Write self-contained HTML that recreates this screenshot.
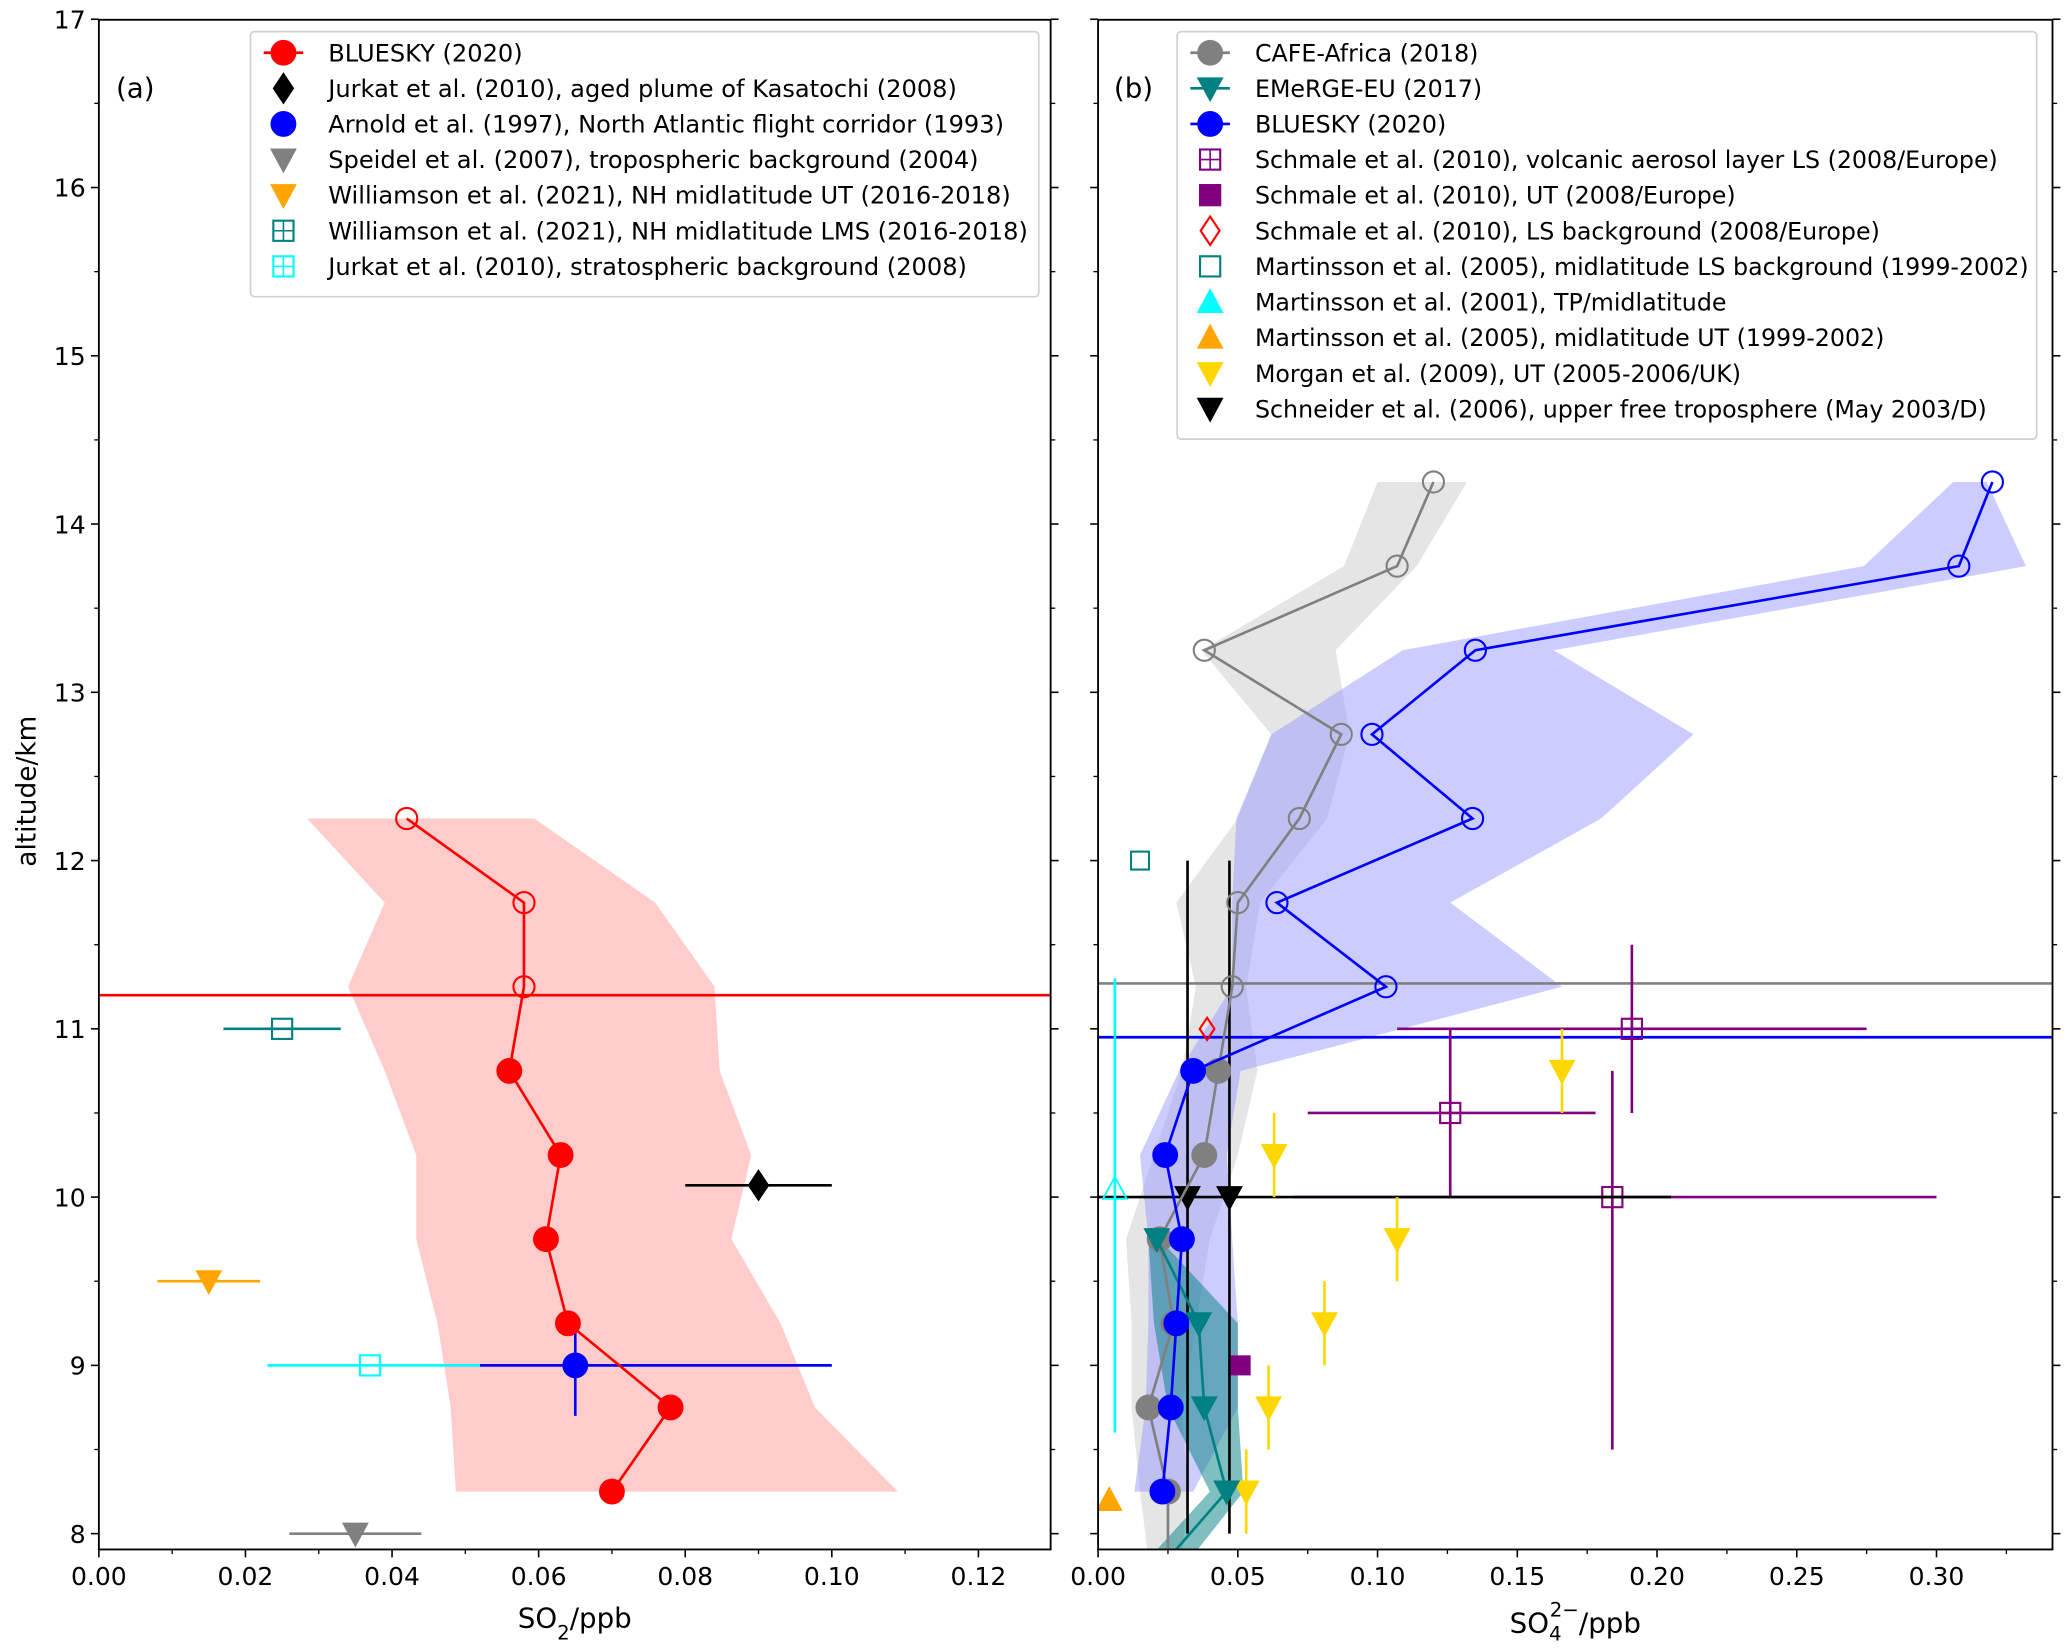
<!DOCTYPE html>
<html><head><meta charset="utf-8"><style>
html,body{margin:0;padding:0;background:#fff}
svg{display:block}
text{font-family:"DejaVu Sans","Liberation Sans",sans-serif}
</style></head><body>
<svg id="fig" xmlns="http://www.w3.org/2000/svg" width="2067" height="1651" viewBox="0 0 1568 1252" preserveAspectRatio="none"></svg>
<script>
// ---- data: panel (a) SO2 ----
const aAlt = [12.25, 11.75, 11.25, 10.75, 10.25, 9.75, 9.25, 8.75, 8.25];
const aSO2 = [0.042, 0.058, 0.058, 0.056, 0.063, 0.061, 0.064, 0.078, 0.070];
const aLow = [0.0284, 0.039, 0.034, 0.039, 0.0433, 0.0433, 0.0462, 0.048, 0.0487];
const aHigh = [0.0594, 0.0759, 0.084, 0.0847, 0.089, 0.0863, 0.093, 0.0977, 0.109];
const aOpen = [true, true, true, false, false, false, false, false, false];
const aTropopause = 11.2;
// reference points [x, alt, xlo, xhi]
const jurkatPlume = [0.090, 10.07, 0.080, 0.100];
const arnold = [0.065, 9.0, 0.052, 0.100, 8.7, 9.2];
const speidel = [0.035, 8.0, 0.026, 0.044];
const williamsonUT = [0.015, 9.5, 0.008, 0.022];
const williamsonLMS = [0.025, 11.0, 0.017, 0.033];
const jurkatStrat = [0.037, 9.0, 0.023, 0.052];
// ---- data: panel (b) sulfate ----
const bAlt = [14.25, 13.75, 13.25, 12.75, 12.25, 11.75, 11.25, 10.75, 10.25, 9.75, 9.25, 8.75, 8.25];
const cafeVal = [0.120, 0.107, 0.038, 0.087, 0.072, 0.050, 0.048, 0.043, 0.038, 0.022, 0.027, 0.018, 0.025];
const cafeLow = [0.100, 0.088, 0.037, 0.062, 0.050, 0.028, 0.035, 0.030, 0.020, 0.010, 0.012, 0.012, 0.015];
const cafeHigh = [0.132, 0.114, 0.085, 0.090, 0.082, 0.058, 0.053, 0.057, 0.050, 0.040, 0.035, 0.030, 0.032];
const cafeOpen = [true, true, true, true, true, true, true, false, false, false, false, false, false];
const blueVal = [0.320, 0.308, 0.135, 0.098, 0.134, 0.064, 0.103, 0.034, 0.024, 0.030, 0.028, 0.026, 0.023];
const blueLow = [0.306, 0.274, 0.109, 0.062, 0.0495, 0.048, 0.048, 0.029, 0.015, 0.018, 0.018, 0.017, 0.013];
const blueHigh = [0.318, 0.332, 0.163, 0.213, 0.180, 0.126, 0.166, 0.051, 0.046, 0.048, 0.050, 0.050, 0.034];
const blueOpen = [true, true, true, true, true, true, true, false, false, false, false, false, false];
const emAlt = [9.75, 9.25, 8.75, 8.25];
const emVal = [0.021, 0.036, 0.038, 0.046];
const emLow = [0.018, 0.020, 0.025, 0.040];
const emHigh = [0.022, 0.050, 0.050, 0.052];
const cafeTropopause = 11.27, blueTropopause = 10.95;
// Schmale volcanic [x, alt, xlo, xhi, ylo, yhi]
const schmaleVolc = [[0.191, 11.0, 0.107, 0.275, 10.5, 11.5], [0.126, 10.5, 0.075, 0.178, 10.0, 11.0], [0.184, 10.0, 0.070, 0.300, 8.5, 10.75]];
const schmaleUT = [0.051, 9.0];
const schmaleLS = [0.039, 11.0];
const martLS = [0.015, 12.0];
const martTP = [0.006, 10.05, 8.6, 11.3];
const martUT = [0.004, 8.2];
const morganVal = [0.166, 0.063, 0.107, 0.081, 0.061, 0.053];
const morganAlt = [10.75, 10.25, 9.75, 9.25, 8.75, 8.25];
const schneiderVal = [0.032, 0.047];
const schneiderAlt = 10.0, schneiderYlo = 8.0, schneiderYhi = 12.0, schneiderXhi = 0.205;
const aTicks = [0.00, 0.02, 0.04, 0.06, 0.08, 0.10, 0.12];
const bTicks = [0.00, 0.05, 0.10, 0.15, 0.20, 0.25, 0.30];
const yTicks = [8, 9, 10, 11, 12, 13, 14, 15, 16, 17];

const NS = "http://www.w3.org/2000/svg";
const svg = document.getElementById('fig');
function el(tag, attrs, parent) { const e = document.createElementNS(NS, tag); for (const k in attrs) e.setAttribute(k, attrs[k]); (parent || svg).appendChild(e); return e; }
const Y0 = 1163, YPK = 127.6, TOP = 15, BOT = 1175;
const y = a => Y0 - (a - 8) * YPK;
const pa = { x0: 75, x1: 797, sc: 5560 };
const pb = { x0: 833, x1: 1557, sc: 2120 };
const xa = v => pa.x0 + v * pa.sc;
const xb = v => pb.x0 + v * pb.sc;

function clipFor(id, p) { const d = el('defs', {}); const c = el('clipPath', { id: id }, d); el('rect', { x: p.x0, y: TOP, width: p.x1 - p.x0, height: BOT - TOP }, c); }
clipFor('ca', pa); clipFor('cb', pb);

function marker(g, type, cx, cy, color, fill, s) {
  s = s || 9; let e;
  const f = fill ? color : 'none';
  if (type === 'circle') e = el('circle', { cx: cx, cy: cy, r: s, fill: f, stroke: color, 'stroke-width': 1.6 }, g);
  else if (type === 'square') e = el('rect', { x: cx - s * 0.85, y: cy - s * 0.85, width: s * 1.7, height: s * 1.7, fill: f, stroke: color, 'stroke-width': 1.6 }, g);
  else if (type === 'squareplus') { e = el('g', {}, g); el('rect', { x: cx - s * 0.85, y: cy - s * 0.85, width: s * 1.7, height: s * 1.7, fill: 'none', stroke: color, 'stroke-width': 1.6 }, e); el('path', { d: `M${cx - s * .85},${cy}H${cx + s * .85}M${cx},${cy - s * .85}V${cy + s * .85}`, stroke: color, 'stroke-width': 1.2 }, e); }
  else if (type === 'diamond') e = el('path', { d: `M${cx},${cy - s * 1.2}L${cx + s * .8},${cy}L${cx},${cy + s * 1.2}L${cx - s * .8},${cy}Z`, fill: f, stroke: color, 'stroke-width': 1.6 }, g);
  else if (type === 'tdown') e = el('path', { d: `M${cx - s},${cy - s * .85}L${cx + s},${cy - s * .85}L${cx},${cy + s}Z`, fill: f, stroke: color, 'stroke-width': 1.4 }, g);
  else if (type === 'tup') e = el('path', { d: `M${cx - s},${cy + s * .85}L${cx + s},${cy + s * .85}L${cx},${cy - s}Z`, fill: f, stroke: color, 'stroke-width': 1.4 }, g);
  return e;
}
function hline(g, x1, x2, yy, color, w) { return el('line', { x1: x1, x2: x2, y1: yy, y2: yy, stroke: color, 'stroke-width': w || 2 }, g); }
function vline(g, xx, y1, y2, color, w) { return el('line', { x1: xx, x2: xx, y1: y1, y2: y2, stroke: color, 'stroke-width': w || 2 }, g); }
function band(g, low, high, alts, fx, color, op) {
  let d = '';
  alts.forEach((a, i) => d += (i ? 'L' : 'M') + fx(low[i]) + ',' + y(a));
  for (let i = alts.length - 1; i >= 0; i--) d += 'L' + fx(high[i]) + ',' + y(alts[i]);
  return el('path', { d: d + 'Z', fill: color, 'fill-opacity': op, stroke: 'none' }, g);
}
function polyline(g, vals, alts, fx, color, extra) {
  let pts = vals.map((v, i) => fx(v) + ',' + y(alts[i]));
  if (extra) pts.push(fx(extra[0]) + ',' + y(extra[1]));
  return el('polyline', { points: pts.join(' '), fill: 'none', stroke: color, 'stroke-width': 2 }, g);
}

// ---------- Panel A ----------
const gA = el('g', { 'clip-path': 'url(#ca)' });


const bandA = band(gA, aLow, aHigh, aAlt, xa, '#ff9999', 0.5);


const tpA = hline(gA, pa.x0, pa.x1, y(aTropopause), '#ff0000', 2);


function errPoint(g, fx, p, color, type, fill, name) {
  const gg = el('g', {}, g);
  
  
  hline(gg, fx(p[2]), fx(p[3]), y(p[1]), color, 2);
  if (p.length > 4) vline(gg, fx(p[0]), y(p[4]), y(p[5]), color, 2);
  marker(gg, type, fx(p[0]), y(p[1]), color, fill, 9);
  return gg;
}
errPoint(gA, xa, jurkatPlume, '#000', 'diamond', true, 'jurkat-kasatochi-point');
errPoint(gA, xa, speidel, '#808080', 'tdown', true, 'speidel-point');
errPoint(gA, xa, williamsonUT, '#ffa500', 'tdown', true, 'williamson-ut-point');
errPoint(gA, xa, williamsonLMS, '#008080', 'square', false, 'williamson-lms-point');
errPoint(gA, xa, jurkatStrat, '#00ffff', 'square', false, 'jurkat-strat-point');
errPoint(gA, xa, arnold, '#0000ff', 'circle', true, 'arnold-point');
const lineA = polyline(gA, aSO2, aAlt, xa, '#ff0000');


aSO2.forEach((v, i) => {
  const m = marker(gA, 'circle', xa(v), y(aAlt[i]), '#ff0000', !aOpen[i], aOpen[i] ? 8 : 9);
  
  
});

// ---------- Panel B ----------
const gB = el('g', { 'clip-path': 'url(#cb)' });


const bandC = band(gB, cafeLow.concat([0.018]), cafeHigh.concat([0.030]), bAlt.concat([7.85]), xb, '#cccccc', 0.5);


const bandB = band(gB, blueLow, blueHigh, bAlt, xb, '#9999ff', 0.5);


const bandE = band(gB, emLow.concat([0.018]), emHigh.concat([0.033]), emAlt.concat([7.85]), xb, '#008080', 0.5);


const tpC = hline(gB, pb.x0, pb.x1, y(cafeTropopause), '#808080', 2);


const tpB = hline(gB, pb.x0, pb.x1, y(blueTropopause), '#0000ff', 2);


schmaleVolc.forEach(p => { errPoint(gB, xb, p, '#800080', 'square', false, 'schmale-volcanic-point'); });
const gS = el('g', {}, gB);


hline(gS, xb(0), xb(schneiderXhi), y(schneiderAlt), '#000', 2);
schneiderVal.forEach(v => { vline(gS, xb(v), y(schneiderYlo), y(schneiderYhi), '#000', 2); marker(gS, 'tdown', xb(v), y(schneiderAlt), '#000', true, 9); });
morganVal.forEach((v, i) => {
  const g = el('g', {}, gB);
  
  
  vline(g, xb(v), y(morganAlt[i] + 0.25), y(morganAlt[i] - 0.25), '#ffd700', 2);
  marker(g, 'tdown', xb(v), y(morganAlt[i]), '#ffd700', true, 9);
});
const gT = el('g', {}, gB);


vline(gT, xb(martTP[0]), y(martTP[2]), y(martTP[3]), '#00ffff', 2);
marker(gT, 'tup', xb(martTP[0]), y(martTP[1]), '#00ffff', false, 9);
const mUT = marker(gB, 'tup', xb(martUT[0]), y(martUT[1]), '#ffa500', true, 9);


const mLS = marker(gB, 'square', xb(martLS[0]), y(martLS[1]), '#008080', false, 8);


const sUT = marker(gB, 'square', xb(schmaleUT[0]), y(schmaleUT[1]), '#800080', true, 8);


const sLS = marker(gB, 'diamond', xb(schmaleLS[0]), y(schmaleLS[1]), '#ff0000', false, 7);


const lineC = polyline(gB, cafeVal, bAlt, xb, '#808080', [0.025, 7.85]);


cafeVal.forEach((v, i) => {
  const m = marker(gB, 'circle', xb(v), y(bAlt[i]), '#808080', !cafeOpen[i], cafeOpen[i] ? 8 : 9);
  
  
});
const lineE = polyline(gB, emVal, emAlt, xb, '#008080', [0.025, 7.85]);


emVal.forEach((v, i) => {
  const m = marker(gB, 'tdown', xb(v), y(emAlt[i]), '#008080', true, 9);
  
  
});
const lineB = polyline(gB, blueVal, bAlt, xb, '#0000ff');


blueVal.forEach((v, i) => {
  const m = marker(gB, 'circle', xb(v), y(bAlt[i]), '#0000ff', !blueOpen[i], blueOpen[i] ? 8 : 9);
  
  
});

// ---------- Axes ----------
function axes(p, ticks, fx, name, showY) {
  const g = el('g', {});
  
  
  el('rect', { x: p.x0, y: TOP, width: p.x1 - p.x0, height: BOT - TOP, fill: 'none', stroke: '#000', 'stroke-width': 1.4 }, g);
  ticks.forEach(t => {
    const xx = fx(t);
    vline(g, xx, BOT, BOT + 6, '#000', 1.2);
    const tx = el('text', { x: xx, y: BOT + 27, 'font-size': 19, 'text-anchor': 'middle', fill: '#000' }, g);
    tx.textContent = t.toFixed(2);
  });
  const step = (ticks[1] - ticks[0]) / 2;
  for (let v = ticks[0] + step; fx(v) < p.x1 - 0.5; v += 2 * step) vline(g, fx(v), BOT, BOT + 3.5, '#000', 1);
  for (let a = 8; a <= 17.001; a += 0.5) {
    const major = Math.abs(a - Math.round(a)) < 0.01;
    const len = major ? 6 : 3.5;
    hline(g, p.x0 - len, p.x0, y(a), '#000', major ? 1.2 : 1);
    hline(g, p.x1, p.x1 + len, y(a), '#000', major ? 1.2 : 1);
  }
  if (showY) yTicks.forEach(a => {
    const tx = el('text', { x: p.x0 - 10, y: y(a) + 7, 'font-size': 19, 'text-anchor': 'end', fill: '#000' }, g);
    tx.textContent = a;
  });
  return g;
}
axes(pa, aTicks, xa, 'panel-a-axes', true);
axes(pb, bTicks, xb, 'panel-b-axes', false);

const ylab = el('text', { x: 0, y: 0, 'font-size': 20, 'text-anchor': 'middle', transform: `translate(27,${(TOP + BOT) / 2 + 5}) rotate(-90)` });


ylab.textContent = 'altitude/km';
const xla = el('text', { x: 436, y: 1234, 'font-size': 21, 'text-anchor': 'middle' });


xla.innerHTML = 'SO<tspan baseline-shift="sub" font-size="15">2</tspan>/ppb';
const xlb = el('text', { x: 1195, y: 1238, 'font-size': 21, 'text-anchor': 'middle' });


xlb.innerHTML = 'SO<tspan dy="6" font-size="15">4</tspan><tspan dy="-18" dx="-9" font-size="15">2−</tspan><tspan dy="12">/ppb</tspan>';
const la = el('text', { x: 88, y: 74, 'font-size': 21 });


la.textContent = '(a)';
const lb = el('text', { x: 845, y: 74, 'font-size': 21 });


lb.textContent = '(b)';

// ---------- Legends ----------
const legAEntries = ['BLUESKY (2020)', 'Jurkat et al. (2010), aged plume of Kasatochi (2008)', 'Arnold et al. (1997), North Atlantic flight corridor (1993)', 'Speidel et al. (2007), tropospheric background (2004)', 'Williamson et al. (2021), NH midlatitude UT (2016-2018)', 'Williamson et al. (2021), NH midlatitude LMS (2016-2018)', 'Jurkat et al. (2010), stratospheric background (2008)'];
const legAStyle = [['circle', '#ff0000', true, true], ['diamond', '#000', true, false], ['circle', '#0000ff', true, false], ['tdown', '#808080', true, false], ['tdown', '#ffa500', true, false], ['squareplus', '#008080', false, false], ['squareplus', '#00ffff', false, false]];
const legBEntries = ['CAFE-Africa (2018)', 'EMeRGE-EU (2017)', 'BLUESKY (2020)', 'Schmale et al. (2010), volcanic aerosol layer LS (2008/Europe)', 'Schmale et al. (2010), UT (2008/Europe)', 'Schmale et al. (2010), LS background (2008/Europe)', 'Martinsson et al. (2005), midlatitude LS background (1999-2002)', 'Martinsson et al. (2001), TP/midlatitude', 'Martinsson et al. (2005), midlatitude UT (1999-2002)', 'Morgan et al. (2009), UT (2005-2006/UK)', 'Schneider et al. (2006), upper free troposphere (May 2003/D)'];
const legBStyle = [['circle', '#808080', true, true], ['tdown', '#008080', true, true], ['circle', '#0000ff', true, true], ['squareplus', '#800080', false, false], ['square', '#800080', true, false], ['diamond', '#ff0000', false, false], ['square', '#008080', false, false], ['tup', '#00ffff', true, false], ['tup', '#ffa500', true, false], ['tdown', '#ffd700', true, false], ['tdown', '#000', true, false]];
function legend(x, yTop, w, entries, styles, name, fs) {
  const g = el('g', {});
  
  
  el('rect', { x: x, y: yTop, width: w, height: entries.length * 27 + 12, rx: 3, fill: '#fff', 'fill-opacity': 0.85, stroke: '#d0d0d0', 'stroke-width': 1.3 }, g);
  entries.forEach((t, i) => {
    const cy = yTop + 16 + i * 27;
    const s = styles[i];
    const eg = el('g', {}, g);
    
    
    if (s[3]) hline(eg, x + 10, x + 40, cy, s[1], 2);
    marker(eg, s[0], x + 25, cy, s[1], s[2], 9);
    const tx = el('text', { x: x + 59, y: cy + 6.5, 'font-size': fs, fill: '#000' }, eg);
    tx.textContent = t;
  });
}
legend(190, 24, 598, legAEntries, legAStyle, 'legend-a', 18.3);
legend(893, 24, 652, legBEntries, legBStyle, 'legend-b', 18);
</script>
</body></html>
